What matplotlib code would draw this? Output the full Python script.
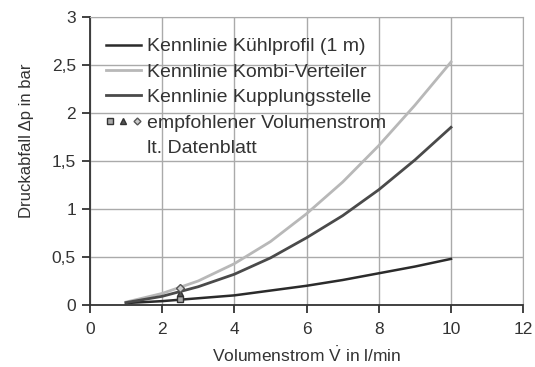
import matplotlib
matplotlib.use("Agg")
import matplotlib.pyplot as plt
from matplotlib.lines import Line2D
from matplotlib.legend_handler import HandlerTuple

plt.rcParams['font.family'] = ['Liberation Sans', 'DejaVu Sans']
plt.rcParams['mathtext.fontset'] = 'custom'
plt.rcParams['mathtext.rm'] = 'Liberation Sans'
plt.rcParams['mathtext.it'] = 'Liberation Sans'

# Volumenstrom in l/min
flow = [1, 2, 3, 4, 5, 6, 7, 8, 9, 10]
# Druckabfall in bar
kuehlprofil = [0.02, 0.04, 0.07, 0.10, 0.15, 0.20, 0.26, 0.33, 0.40, 0.48]
kombi = [0.03, 0.12, 0.25, 0.43, 0.66, 0.95, 1.28, 1.66, 2.08, 2.53]
kupplung = [0.025, 0.09, 0.19, 0.32, 0.49, 0.70, 0.93, 1.20, 1.51, 1.85]

# empfohlener Volumenstrom lt. Datenblatt
rec_flow = [2.5, 2.5, 2.5]
rec_dp = [0.06, 0.12, 0.18]

xticks = [0, 2, 4, 6, 8, 10, 12]
yticks = [0, 0.5, 1, 1.5, 2, 2.5, 3]
ylabels = ["0", "0,5", "1", "1,5", "2", "2,5", "3"]

fig = plt.figure(figsize=(5.35, 3.67), dpi=100)
ax = fig.add_axes([0.168, 0.169, 0.810, 0.785])

c_k, c_v, c_s = "#2b2b2b", "#b8b8b8", "#4a4a4a"
l1, = ax.plot(flow, kuehlprofil, color=c_k, lw=1.8)
l2, = ax.plot(flow, kombi, color=c_v, lw=2.0)
l3, = ax.plot(flow, kupplung, color=c_s, lw=2.0)

ax.plot(rec_flow[0], rec_dp[0], ls="none", marker="s", ms=5, mfc="#aaaaaa", mec="#333333", mew=1)
ax.plot(rec_flow[1], rec_dp[1], ls="none", marker="^", ms=5, mfc="#555555", mec="#333333", mew=1)
ax.plot(rec_flow[2], rec_dp[2], ls="none", marker="D", ms=4, mfc="#cccccc", mec="#555555", mew=1)

ax.set_xlim(0, 12)
ax.set_ylim(0, 3)
ax.set_xticks(xticks)
ax.set_yticks(yticks)
ax.set_yticklabels(ylabels)
ax.grid(True, color="#aaaaaa", lw=1.0)
ax.set_axisbelow(True)
for s in ["top", "right"]:
    ax.spines[s].set_color("#aaaaaa")
for s in ["left", "bottom"]:
    ax.spines[s].set_color("#333333")
    ax.spines[s].set_linewidth(1.3)
ax.tick_params(axis="both", direction="out", length=6, width=1.3, color="#333333",
               labelsize=12.5, labelcolor="#333333", pad=4)
ax.tick_params(axis="x", pad=6)

ax.set_xlabel(r"Volumenstrom $\mathrm{\dot{V}}$ in l/min", fontsize=12.5, color="#333333")
ax.set_ylabel("Druckabfall Δp in bar", fontsize=12, color="#333333")
ax.xaxis.set_label_coords(0.5, -0.143)
ax.yaxis.set_label_coords(-0.13, 0.57)

m1 = Line2D([], [], ls="none", marker="s", ms=4, mfc="#aaaaaa", mec="#333333")
m2 = Line2D([], [], ls="none", marker="^", ms=5, mfc="#555555", mec="#333333")
m3 = Line2D([], [], ls="none", marker="D", ms=3.5, mfc="#cccccc", mec="#555555")
blank = Line2D([], [], ls="none")
leg = ax.legend([l1, l2, l3, (m1, m2, m3), blank],
                ["Kennlinie Kühlprofil (1 m)", "Kennlinie Kombi-Verteiler",
                 "Kennlinie Kupplungsstelle", "empfohlener Volumenstrom",
                 "lt. Datenblatt"],
                handler_map={tuple: HandlerTuple(ndivide=None, pad=0.3)},
                loc="upper left", bbox_to_anchor=(0.01, 0.968), frameon=False,
                fontsize=14, handlelength=1.8, handletextpad=0.3, labelspacing=0.4,
                borderaxespad=0.2)
for t in leg.get_texts():
    t.set_color("#333333")

fig.savefig("out.png", dpi=100)
